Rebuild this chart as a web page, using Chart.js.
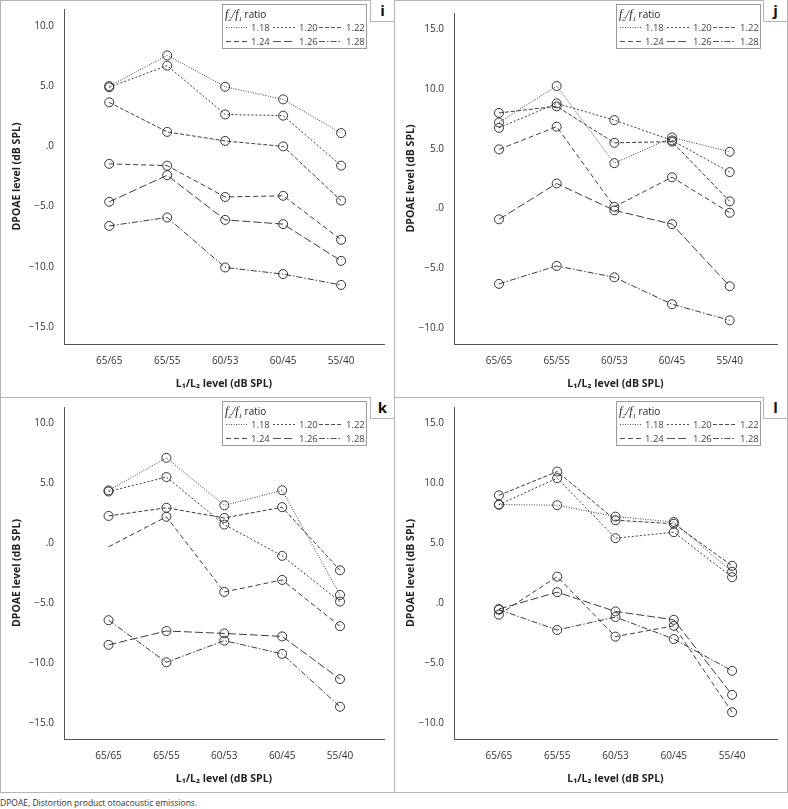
<!DOCTYPE html>
<html>
<head>
<meta charset="utf-8">
<title>DPOAE level by L1/L2 level</title>
<script src="https://cdn.jsdelivr.net/npm/chart.js@4.4.1/dist/chart.umd.min.js"></script>
<style>
    body { margin: 0; background: #fff; font-family: "Open Sans", sans-serif; }
    #fig { position: relative; width: 788px; height: 809px; overflow: hidden; }
    #fig canvas { position: absolute; }
    .frame { position: absolute; box-sizing: border-box; border: 1px solid #b4b4b4; pointer-events: none; }
    .tag {
        position: absolute; width: 24px; height: 22px; box-sizing: border-box;
        border-left: 1px solid #b4b4b4; border-bottom: 1px solid #b4b4b4;
        font: bold 15px "Open Sans", sans-serif; color: #111;
        text-align: center; line-height: 21px; background: #fff;
    }
    #caption { position: absolute; left: 0; top: 797px; font-size: 8.5px; color: #333; }
</style>
</head>
<body>
<div id="fig">
    <canvas id="chartI" width="394" height="397" style="left:0;top:0"></canvas>
    <canvas id="chartJ" width="394" height="397" style="left:394px;top:0"></canvas>
    <canvas id="chartK" width="394" height="395" style="left:0;top:397px"></canvas>
    <canvas id="chartL" width="394" height="395" style="left:394px;top:397px"></canvas>

    <div class="frame" style="left:0;top:0;width:395px;height:398px"></div>
    <div class="frame" style="left:394px;top:0;width:394px;height:398px"></div>
    <div class="frame" style="left:0;top:397px;width:395px;height:396px"></div>
    <div class="frame" style="left:394px;top:397px;width:394px;height:396px"></div>

    <div class="tag" style="left:370px;top:0">i</div>
    <div class="tag" style="left:763px;top:0">j</div>
    <div class="tag" style="left:370px;top:397px">k</div>
    <div class="tag" style="left:763px;top:397px">l</div>

    <div id="caption">DPOAE, Distortion product otoacoustic emissions.</div>
</div>

<script>
// categories (x) and series names
var levels = ['65/65', '65/55', '60/53', '60/45', '55/40'];
var ratios = ['1.18', '1.20', '1.22', '1.24', '1.26', '1.28'];

// y tick values for each panel
var yTicksI = [-15, -10, -5, 0, 5, 10];
var yTicksJ = [-10, -5, 0, 5, 10, 15];
var yTicksK = [-15, -10, -5, 0, 5, 10];
var yTicksL = [-10, -5, 0, 5, 10, 15];

// DPOAE level (dB SPL), one row per ratio (1.18 ... 1.28)
var valuesI = [
    [5.0, 7.55, 4.95, 3.9, 1.1],
    [4.9, 6.7, 2.65, 2.55, -1.6],
    [3.65, 1.2, 0.45, 0.0, -4.5],
    [-1.45, -1.6, -4.2, -4.1, -7.75],
    [-4.6, -2.4, -6.1, -6.45, -9.5],
    [-6.6, -5.9, -10.05, -10.6, -11.5]
];
var valuesJ = [
    [7.2, 10.25, 3.8, 5.95, 4.75],
    [6.75, 8.8, 7.4, 5.7, 3.05],
    [8.0, 8.55, 5.5, 5.6, 0.6],
    [4.95, 6.85, 0.15, 2.62, -0.35],
    [-0.9, 2.1, -0.15, -1.3, -6.5],
    [-6.3, -4.8, -5.75, -8.0, -9.35]
];
var valuesK = [
    [4.4, 7.1, 3.15, 4.4, -4.3],
    [4.3, 5.5, 1.55, -1.05, -4.85],
    [2.27, 2.95, 2.1, 3.0, -2.25],
    [-0.3, 2.2, -4.05, -3.05, -6.9],
    [-8.45, -7.3, -7.5, -7.75, -11.3],
    [-6.4, -9.9, -8.1, -9.2, -13.6]
];
var valuesL = [
    [8.2, 8.15, 7.2, 6.75, 2.6],
    [8.2, 10.4, 5.4, 5.9, 2.15],
    [8.97, 10.95, 6.9, 6.6, 3.1],
    [-0.97, 2.2, -2.8, -1.9, -9.1],
    [-0.5, 0.9, -0.7, -1.4, -7.65],
    [-0.55, -2.25, -1.17, -3.0, -5.65]
];

// line style per ratio
var dashes = [[1, 1.5], [2, 2], [4, 2], [5, 3], [8, 3], [6, 2, 1.5, 2]];
var lineColor = '#3c3c3c';
var axisColor = '#555';
var fontFamily = '"Open Sans", sans-serif';

// Legend "f2/f1 ratio" drawn in the box top right
var ratioLegend = {
    id: 'ratioLegend',
    afterDraw: function (chart) {
        var c = chart.ctx;
        var bx = 222.5, by = 4.5, bw = 144, bh = 44;
        c.save();
        c.fillStyle = '#fff';
        c.fillRect(bx, by, bw, bh);
        c.strokeStyle = '#9a9a9a';
        c.lineWidth = 1;
        c.strokeRect(bx, by, bw, bh);

        // title with italic f and subscripts
        var x = 225, ty = 18;
        c.fillStyle = '#222';
        c.textBaseline = 'alphabetic';
        var parts = [
            ['f', 'italic 12px "Liberation Serif", serif', 0],
            ['2', 'italic 7px "Liberation Serif", serif', 2.5],
            ['/', 'italic 12px "Liberation Serif", serif', 0],
            ['f', 'italic 12px "Liberation Serif", serif', 0],
            ['1', 'italic 7px "Liberation Serif", serif', 2.5],
            [' ratio', '10px ' + fontFamily, 0]
        ];
        parts.forEach(function (p) {
            c.font = p[1];
            c.fillText(p[0], x, ty + p[2]);
            x += c.measureText(p[0]).width;
        });

        // two rows of three entries
        var sampleX = [226, 273, 319];
        var textX = [251, 299, 346];
        var rowY = [27.5, 41.5];
        c.font = '9.5px ' + fontFamily;
        c.textBaseline = 'middle';
        chart.data.datasets.forEach(function (ds, i) {
            var col = i % 3, row = Math.floor(i / 3);
            c.strokeStyle = '#555';
            c.lineWidth = 1.2;
            c.setLineDash(ds.borderDash);
            c.beginPath();
            c.moveTo(sampleX[col], rowY[row]);
            c.lineTo(sampleX[col] + 22, rowY[row]);
            c.stroke();
            c.setLineDash([]);
            c.fillStyle = '#444';
            c.fillText(ds.label, textX[col], rowY[row] + 0.5);
        });
        c.restore();
    }
};

function formatTick(v) {
    if (v === 0) return '.0';
    return (v < 0 ? '\u2212' : '') + Math.abs(v).toFixed(1);
}

function makePanel(id, values, yTicks, p) {
    var ctx = document.getElementById(id).getContext('2d');
    var datasets = ratios.map(function (r, i) {
        return {
            label: r,
            data: values[i].map(function (v, k) { return { x: k, y: v }; }),
            borderColor: lineColor,
            borderWidth: 1,
            borderDash: dashes[i],
            pointStyle: 'circle',
            pointRadius: (p.hidePoint && p.hidePoint[0] === i) ? values[i].map(function (v, k) { return k === p.hidePoint[1] ? 0 : 4.5; }) : 4.5,
            pointBorderColor: '#333',
            pointBackgroundColor: 'rgba(0,0,0,0)',
            pointBorderWidth: 1,
            fill: false,
            tension: 0
        };
    });

    return new Chart(ctx, {
        type: 'line',
        data: { datasets: datasets },
        options: {
            responsive: false,
            animation: false,
            events: [],
            layout: { padding: { top: p.top, right: p.right, left: 0, bottom: 0 } },
            plugins: {
                legend: { display: false },
                tooltip: { enabled: false }
            },
            scales: {
                x: {
                    type: 'linear',
                    min: p.xMin,
                    max: p.xMax,
                    grid: { display: false, drawTicks: false },
                    border: { color: axisColor, width: 1 },
                    afterBuildTicks: function (scale) {
                        scale.ticks = levels.map(function (l, k) { return { value: k }; });
                    },
                    afterFit: function (scale) {
                        scale.height = 53;
                        scale.paddingLeft = 0;
                        scale.paddingRight = 0;
                    },
                    ticks: {
                        autoSkip: false,
                        maxRotation: 0,
                        padding: 11,
                        color: '#333',
                        font: { family: fontFamily, size: 10 },
                        callback: function (v) { return levels[v]; }
                    },
                    title: {
                        display: true,
                        text: 'L\u2081/L\u2082 level (dB SPL)',
                        color: '#222',
                        font: { family: fontFamily, size: 10.5, weight: 'bold' },
                        padding: { top: 0, bottom: 7 }
                    }
                },
                y: {
                    min: p.yMin,
                    max: p.yMax,
                    grid: { display: false, drawTicks: false },
                    border: { color: axisColor, width: 1 },
                    afterBuildTicks: function (scale) {
                        scale.ticks = yTicks.map(function (v) { return { value: v }; });
                    },
                    afterFit: function (scale) {
                        scale.width = p.yWidth;
                        scale.paddingTop = 0;
                        scale.paddingBottom = 0;
                    },
                    ticks: {
                        padding: 10,
                        color: '#333',
                        font: { family: fontFamily, size: 10 },
                        callback: formatTick
                    },
                    title: {
                        display: true,
                        text: 'DPOAE level (dB SPL)',
                        color: '#222',
                        font: { family: fontFamily, size: 10.5, weight: 'bold' },
                        padding: { top: 11, bottom: 0 }
                    }
                }
            }
        },
        plugins: [ratioLegend]
    });
}

makePanel('chartI', valuesI, yTicksI, { top: 9, right: 10, yWidth: 64, xMin: -0.78, xMax: 4.74, yMin: -16.4, yMax: 11.4 });
makePanel('chartJ', valuesJ, yTicksJ, { top: 13, right: 11, yWidth: 60, xMin: -0.78, xMax: 4.82, yMin: -11.33, yMax: 16.36 });
makePanel('chartK', valuesK, yTicksK, { top: 10, right: 10, yWidth: 64, xMin: -0.77, xMax: 4.76, yMin: -16.28, yMax: 11.33, hidePoint: [3, 0] });
makePanel('chartL', valuesL, yTicksL, { top: 10, right: 11, yWidth: 60, xMin: -0.77, xMax: 4.77, yMin: -11.33, yMax: 16.33 });
</script>
</body>
</html>
